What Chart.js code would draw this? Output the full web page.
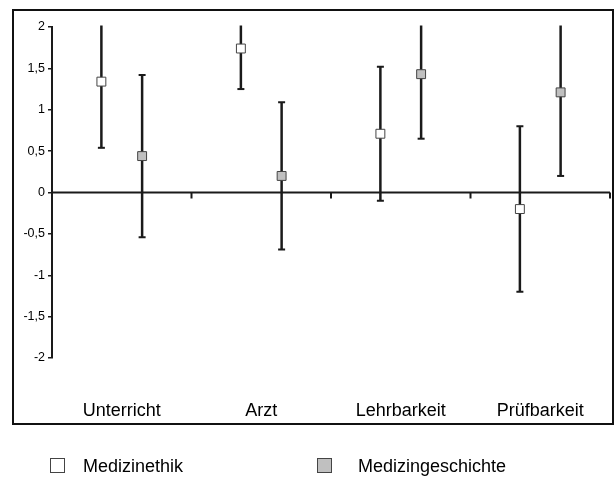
<!DOCTYPE html>
<html>
<head>
<meta charset="utf-8">
<script src="https://cdn.jsdelivr.net/npm/chart.js@4/dist/chart.umd.min.js"></script>
<style>
  html, body { margin: 0; padding: 0; background: #fff; }
  #wrap { width: 614px; height: 477px; }
</style>
</head>
<body>
<div id="wrap"><canvas id="errChart"></canvas></div>
<script>
var categories = ["Unterricht", "Arzt", "Lehrbarkeit", "Prüfbarkeit"];
var seriesNames = ["Medizinethik", "Medizingeschichte"];
var ethikMean = [1.34, 1.74, 0.71, -0.2];
var ethikErr = [0.8, 0.49, 0.81, 1.0];
var geschMean = [0.44, 0.2, 1.43, 1.21];
var geschErr = [0.98, 0.89, 0.78, 1.01];
var yTicks = [-2, -1.5, -1, -0.5, 0, 0.5, 1, 1.5, 2];

var seriesOffset = 0.146;
var FONT = "'Liberation Sans', Arial, sans-serif";

function toPoints(means, shift) {
  return means.map(function (v, i) { return { x: i + shift, y: v }; });
}

var errorBars = {
  id: "errorBars",
  beforeDatasetsDraw: function (chart) {
    var ctx = chart.ctx, xs = chart.scales.x, ys = chart.scales.y, a = chart.chartArea;
    ctx.save();
    // zero line with category separators
    var y0 = ys.getPixelForValue(0);
    ctx.strokeStyle = "#1a1a1a";
    ctx.lineWidth = 2;
    ctx.beginPath();
    ctx.moveTo(a.left, y0);
    ctx.lineTo(a.right, y0);
    categories.forEach(function (c, i) {
      var bx = xs.getPixelForValue(i + 0.5);
      ctx.moveTo(bx, y0);
      ctx.lineTo(bx, y0 + 6);
    });
    ctx.stroke();
    // error bars
    var errs = [ethikErr, geschErr];
    ctx.lineWidth = 2.5;
    chart.data.datasets.forEach(function (ds, d) {
      ds.data.forEach(function (p, i) {
        var px = xs.getPixelForValue(p.x);
        var hi = p.y + errs[d][i], lo = p.y - errs[d][i];
        var yHi = hi > ys.max ? a.top - 1.5 : ys.getPixelForValue(hi);
        var yLo = ys.getPixelForValue(lo);
        ctx.beginPath();
        ctx.moveTo(px, yHi);
        ctx.lineTo(px, yLo);
        ctx.stroke();
        ctx.lineWidth = 2;
        ctx.beginPath();
        if (hi <= ys.max) { ctx.moveTo(px - 3.5, yHi); ctx.lineTo(px + 3.5, yHi); }
        ctx.moveTo(px - 3.5, yLo);
        ctx.lineTo(px + 3.5, yLo);
        ctx.stroke();
        ctx.lineWidth = 2.5;
      });
    });
    ctx.restore();
  },
  afterDraw: function (chart) {
    var ctx = chart.ctx;
    ctx.save();
    // outer frame
    ctx.strokeStyle = "#111";
    ctx.lineWidth = 2;
    ctx.strokeRect(13, 10, 600, 414);
    // legend
    var pos = [[50, 83], [317, 358]];
    ctx.font = "18px " + FONT;
    ctx.textBaseline = "middle";
    chart.data.datasets.forEach(function (ds, d) {
      ctx.fillStyle = ds.backgroundColor;
      ctx.strokeStyle = "#444";
      ctx.lineWidth = 1;
      ctx.fillRect(pos[d][0] + 0.5, 458.5, 14, 14);
      ctx.strokeRect(pos[d][0] + 0.5, 458.5, 14, 14);
      ctx.fillStyle = "#000";
      ctx.fillText(ds.label, pos[d][1], 467);
    });
    ctx.restore();
  }
};

new Chart(document.getElementById("errChart"), {
  type: "scatter",
  data: {
    datasets: [
      {
        label: seriesNames[0],
        data: toPoints(ethikMean, -seriesOffset),
        backgroundColor: "#ffffff",
        borderColor: "#444",
        borderWidth: 1,
        pointStyle: "rect",
        pointRadius: 6.3,
        pointHoverRadius: 6.3
      },
      {
        label: seriesNames[1],
        data: toPoints(geschMean, seriesOffset),
        backgroundColor: "#c0c0c0",
        borderColor: "#444",
        borderWidth: 1,
        pointStyle: "rect",
        pointRadius: 6.3,
        pointHoverRadius: 6.3
      }
    ]
  },
  options: {
    responsive: true,
    maintainAspectRatio: false,
    animation: false,
    layout: { autoPadding: false, padding: { top: 27, right: 4, bottom: 53, left: 0 } },
    plugins: { legend: { display: false }, tooltip: { enabled: false } },
    scales: {
      x: {
        type: "linear",
        min: -0.5,
        max: 3.5,
        grid: { display: false },
        border: { display: false },
        afterBuildTicks: function (s) {
          s.ticks = categories.map(function (c, i) { return { value: i }; });
        },
        afterFit: function (s) {
          s.height = 66;
          s.paddingLeft = 0;
          s.paddingRight = 0;
        },
        ticks: {
          padding: 34,
          maxRotation: 0,
          autoSkip: false,
          color: "#000",
          font: { family: FONT, size: 18 },
          callback: function (v) { return categories[v]; }
        }
      },
      y: {
        min: -2,
        max: 2,
        afterBuildTicks: function (s) {
          s.ticks = yTicks.map(function (v) { return { value: v }; });
        },
        afterFit: function (s) { s.width = 52; },
        grid: { drawOnChartArea: false, drawTicks: true, tickLength: 4, color: "#1a1a1a", lineWidth: 1.5 },
        border: { display: true, color: "#1a1a1a", width: 2 },
        ticks: {
          padding: 3,
          color: "#000",
          font: { family: FONT, size: 12.5 },
          callback: function (v) { return String(v).replace(".", ","); }
        }
      }
    }
  },
  plugins: [errorBars]
});
</script>
</body>
</html>
